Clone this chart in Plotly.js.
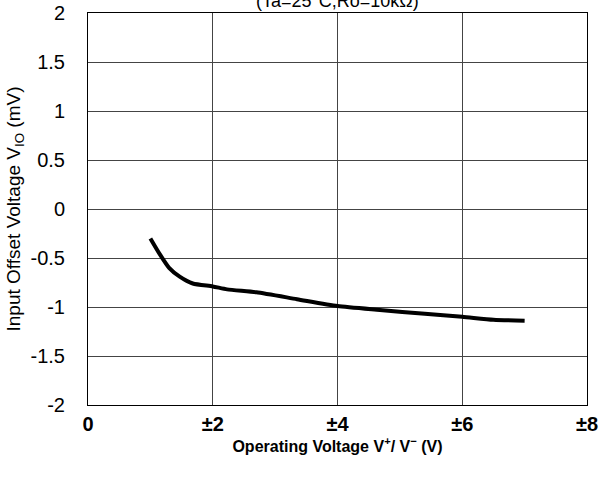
<!DOCTYPE html>
<html>
<head>
<meta charset="utf-8">
<script src="https://cdn.plot.ly/plotly-3.0.1.min.js"></script>
<style>html,body{margin:0;padding:0;background:#fff;}#chart{width:599px;height:485px;}</style>
</head>
<body>
<div id="chart"></div>
<script>
const voltage = [1.0, 1.15, 1.3, 1.47, 1.68, 2.0, 2.23, 2.7, 3.35, 4.0, 4.68, 5.4, 6.0, 6.5, 7.0];
const offset = [-0.3, -0.46, -0.6, -0.69, -0.76, -0.79, -0.82, -0.85, -0.92, -0.99, -1.03, -1.07, -1.10, -1.13, -1.14];
const xTickVals = [0, 2, 4, 6, 8];
const xTickText = ['0', '±2', '±4', '±6', '±8'];
const yTickVals = [-2, -1.5, -1, -0.5, 0, 0.5, 1, 1.5, 2];
const yTickText = ['-2', '-1.5', '-1', '-0.5', '0', '0.5', '1', '1.5', '2'];

const font = 'Liberation Sans, Arial, sans-serif';
Plotly.newPlot('chart', [{
  x: voltage, y: offset, mode: 'lines', type: 'scatter',
  line: {color: '#000', width: 4, shape: 'spline', smoothing: 0.6},
  hoverinfo: 'skip'
}], {
  width: 599, height: 485,
  margin: {l: 88, r: 12, t: 13, b: 80},
  paper_bgcolor: '#fff', plot_bgcolor: '#fff',
  showlegend: false,
  font: {family: font, color: '#000'},
  xaxis: {
    range: [0, 8], tickvals: xTickVals, ticktext: xTickText,
    showgrid: true, gridcolor: '#444', gridwidth: 1,
    zeroline: false, showline: true, linecolor: '#000', linewidth: 1, mirror: true,
    ticks: '', ticklabelstandoff: 1,
    tickfont: {family: font, size: 20, color: '#000', weight: 'bold'},
    title: {text: 'Operating Voltage V<sup>+</sup>/ V<sup>−</sup> (V)', standoff: 0,
      font: {family: font, size: 16, color: '#000', weight: 'bold'}}
  },
  yaxis: {
    range: [-2, 2], tickvals: yTickVals, ticktext: yTickText,
    showgrid: true, gridcolor: '#444', gridwidth: 1,
    zeroline: false, showline: true, linecolor: '#000', linewidth: 1, mirror: true,
    ticks: '', ticklabelstandoff: 18,
    tickfont: {family: font, size: 20, color: '#000'},
    title: {text: 'Input Offset Voltage V<sub>IO</sub> (mV)', standoff: 4,
      font: {family: font, size: 19, color: '#000'}}
  },
  annotations: [{
    text: '(Ta=25°C,Ro=10kΩ)', xref: 'paper', yref: 'paper', x: 0.5, y: 1,
    xanchor: 'center', yanchor: 'middle', yshift: 12, showarrow: false,
    font: {family: font, size: 18, color: '#000'}
  }]
}, {staticPlot: true});
</script>
</body>
</html>
